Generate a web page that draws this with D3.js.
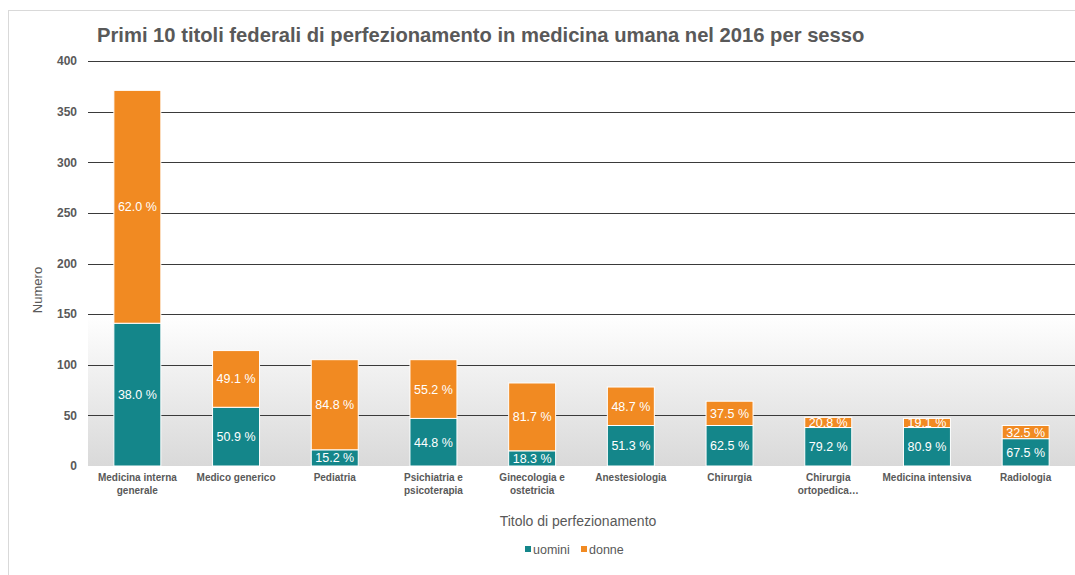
<!DOCTYPE html>
<html><head><meta charset="utf-8">
<script src="https://cdn.jsdelivr.net/npm/d3@7"></script>
<style>
html,body{margin:0;padding:0;background:#fff;}
svg{display:block;font-family:"Liberation Sans",Arial,sans-serif;}
</style></head>
<body>
<svg id="chart" width="1075" height="575"></svg>
<script>
const categories = ["Medicina interna generale","Medico generico","Pediatria","Psichiatria e psicoterapia","Ginecologia e ostetricia","Anestesiologia","Chirurgia","Chirurgia ortopedica…","Medicina intensiva","Radiologia"];
const tickLabels = [["Medicina interna","generale"],["Medico generico"],["Pediatria"],["Psichiatria e","psicoterapia"],["Ginecologia e","ostetricia"],["Anestesiologia"],["Chirurgia"],["Chirurgia","ortopedica…"],["Medicina intensiva"],["Radiologia"]];
const uomini = [141,58,16,47,15,40,40,38,38,27];
const donne  = [230,56,89,58,67,38,24,10,9,13];
const seriesNames = ["uomini","donne"];
const seriesColors = ["#14868a","#f18a22"];
const yTicks = [0,50,100,150,200,250,300,350,400];

(function(){
const svg = d3.select("#chart");
const W = 1075, H = 575;
const pLeft = 88, pRight = 1075, pTop = 61, pBottom = 466;

// chart border
svg.append("rect").attr("x",8.5).attr("y",10.5).attr("width",W).attr("height",H)
  .attr("fill","#fff").attr("stroke","#d9d9d9");

const x = d3.scaleBand().domain(categories).range([pLeft,pRight]).paddingInner(0.524).paddingOuter(0.262);
const y = d3.scaleLinear().domain([0,400]).range([pBottom,pTop]);

// gradient background
const defs = svg.append("defs");
const g = defs.append("linearGradient").attr("id","bg").attr("x1",0).attr("x2",0).attr("y1",0).attr("y2",1);
g.append("stop").attr("offset","0%").attr("stop-color","#ffffff");
g.append("stop").attr("offset","100%").attr("stop-color","#d9d9d9");
svg.append("rect").attr("x",pLeft).attr("y",y(150)).attr("width",pRight-pLeft).attr("height",y(0)-y(150))
  .attr("fill","url(#bg)");

// gridlines
svg.append("g").selectAll("line").data(yTicks.filter(d=>d>0)).join("line")
  .attr("x1",pLeft).attr("x2",pRight)
  .attr("y1",d=>Math.round(y(d))+0.5).attr("y2",d=>Math.round(y(d))+0.5)
  .attr("stroke","#3a3a3a").attr("stroke-width",1.2);

// y axis labels
const yAxis = d3.axisLeft(y).tickValues(yTicks).tickSize(0).tickPadding(11);
const ya = svg.append("g").attr("transform",`translate(${pLeft},0)`).call(yAxis);
ya.select(".domain").remove();
ya.selectAll("text").attr("font-size",12).attr("font-weight","bold").attr("fill","#595959")
  .attr("font-family","Liberation Sans, Arial, sans-serif");

// stacked data
const rows = categories.map((c,i)=>({cat:c, uomini:uomini[i], donne:donne[i]}));
const stack = d3.stack().keys(seriesNames)(rows);

stack.forEach((s,si)=>{
  const gs = svg.append("g");
  gs.selectAll("rect").data(s).join("rect")
    .attr("x",d=>x(d.data.cat))
    .attr("y",d=>y(d[1]))
    .attr("width",x.bandwidth())
    .attr("height",d=>y(d[0])-y(d[1]))
    .attr("fill",seriesColors[si])
    .attr("stroke","#ffffff").attr("stroke-width",1);
});
stack.forEach((s,si)=>{
  const gs = svg.append("g");
  gs.selectAll("text").data(s).join("text")
    .attr("x",d=>x(d.data.cat)+x.bandwidth()/2)
    .attr("y",d=>(y(d[0])+y(d[1]))/2)
    .attr("dy","0.36em")
    .attr("text-anchor","middle")
    .attr("font-size",12.5).attr("fill","#ffffff")
    .text(d=>{const tot=d.data.uomini+d.data.donne; return (d.data[seriesNames[si]]/tot*100).toFixed(1)+" %";});
});

// x labels
const xl = svg.append("g");
categories.forEach((c,i)=>{
  const t = xl.append("text").attr("x",x(c)+x.bandwidth()/2).attr("y",481)
    .attr("text-anchor","middle").attr("font-size",10).attr("font-weight","bold").attr("fill","#595959");
  tickLabels[i].forEach((ln,j)=>{
    t.append("tspan").attr("x",x(c)+x.bandwidth()/2).attr("dy",j===0?0:13).text(ln);
  });
});

// title
svg.append("text").attr("x",97).attr("y",42).attr("font-size",20.2).attr("font-weight","bold").attr("fill","#595959")
  .text("Primi 10 titoli federali di perfezionamento in medicina umana nel 2016 per sesso");

// axis titles
svg.append("text").attr("x",578).attr("y",526).attr("text-anchor","middle").attr("font-size",14).attr("fill","#595959")
  .text("Titolo di perfezionamento");
svg.append("text").attr("transform","translate(42,290) rotate(-90)").attr("text-anchor","middle")
  .attr("font-size",13).attr("fill","#595959").text("Numero");

// legend
const legX = [525,581];
seriesNames.forEach((n,i)=>{
  svg.append("rect").attr("x",legX[i]).attr("y",546).attr("width",6).attr("height",6).attr("fill",seriesColors[i]);
  svg.append("text").attr("x",legX[i]+8).attr("y",553.5).attr("font-size",12.5).attr("fill","#595959").text(n);
});
})();
</script>
</body></html>
